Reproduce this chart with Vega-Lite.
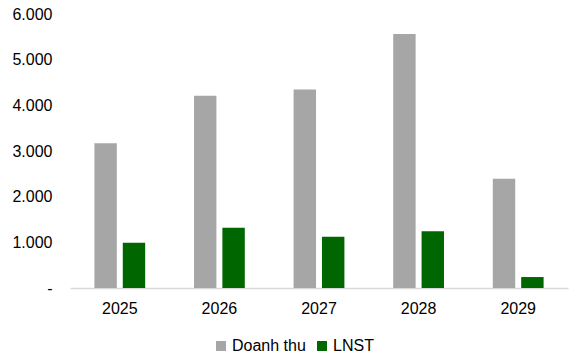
{
  "$schema": "https://vega.github.io/schema/vega-lite/v6.json",
  "width": 498,
  "height": 274,
  "autosize": {"type": "none"},
  "padding": {"left": 70, "top": 14, "right": 5, "bottom": 74},
  "background": "white",
  "data": {
    "values": [
      {"year": "2025", "series": "Doanh thu", "value": 3170},
      {"year": "2025", "series": "LNST", "value": 990},
      {"year": "2026", "series": "Doanh thu", "value": 4210},
      {"year": "2026", "series": "LNST", "value": 1320},
      {"year": "2027", "series": "Doanh thu", "value": 4345},
      {"year": "2027", "series": "LNST", "value": 1120},
      {"year": "2028", "series": "Doanh thu", "value": 5560},
      {"year": "2028", "series": "LNST", "value": 1240},
      {"year": "2029", "series": "Doanh thu", "value": 2395},
      {"year": "2029", "series": "LNST", "value": 240}
    ]
  },
  "config": {
    "view": {"stroke": null},
    "font": "Liberation Sans"
  },
  "mark": {"type": "bar"},
  "encoding": {
    "x": {
      "field": "year",
      "type": "nominal",
      "scale": {"paddingInner": 0.49, "paddingOuter": 0.245},
      "axis": {
        "title": null,
        "labelAngle": 0,
        "labelFont": "Liberation Sans",
        "labelFontSize": 16,
        "labelColor": "#000000",
        "labelPadding": 12,
        "ticks": false,
        "domainColor": "#D9D9D9",
        "domainWidth": 1.5
      }
    },
    "xOffset": {
      "field": "series",
      "type": "nominal",
      "sort": ["Doanh thu", "LNST"],
      "scale": {"paddingInner": 0.21, "paddingOuter": 0}
    },
    "y": {
      "field": "value",
      "type": "quantitative",
      "scale": {"domain": [0, 6000], "nice": false},
      "axis": {
        "title": null,
        "values": [0, 1000, 2000, 3000, 4000, 5000, 6000],
        "labelExpr": "datum.value == 0 ? '-' : replace(format(datum.value, ','), ',', '.')",
        "labelFont": "Liberation Sans",
        "labelFontSize": 16,
        "labelColor": "#000000",
        "labelPadding": 18,
        "ticks": false,
        "domain": false,
        "grid": false
      }
    },
    "color": {
      "field": "series",
      "type": "nominal",
      "sort": ["Doanh thu", "LNST"],
      "scale": {"domain": ["Doanh thu", "LNST"], "range": ["#A6A6A6", "#006600"]},
      "legend": {
        "title": null,
        "orient": "none",
        "direction": "horizontal",
        "legendX": 143,
        "legendY": 324,
        "symbolType": "square",
        "symbolSize": 100,
        "symbolStrokeWidth": 0,
        "labelFont": "Liberation Sans",
        "labelFontSize": 16,
        "labelColor": "#000000",
        "labelOffset": 3,
        "columnPadding": 8
      }
    }
  }
}
